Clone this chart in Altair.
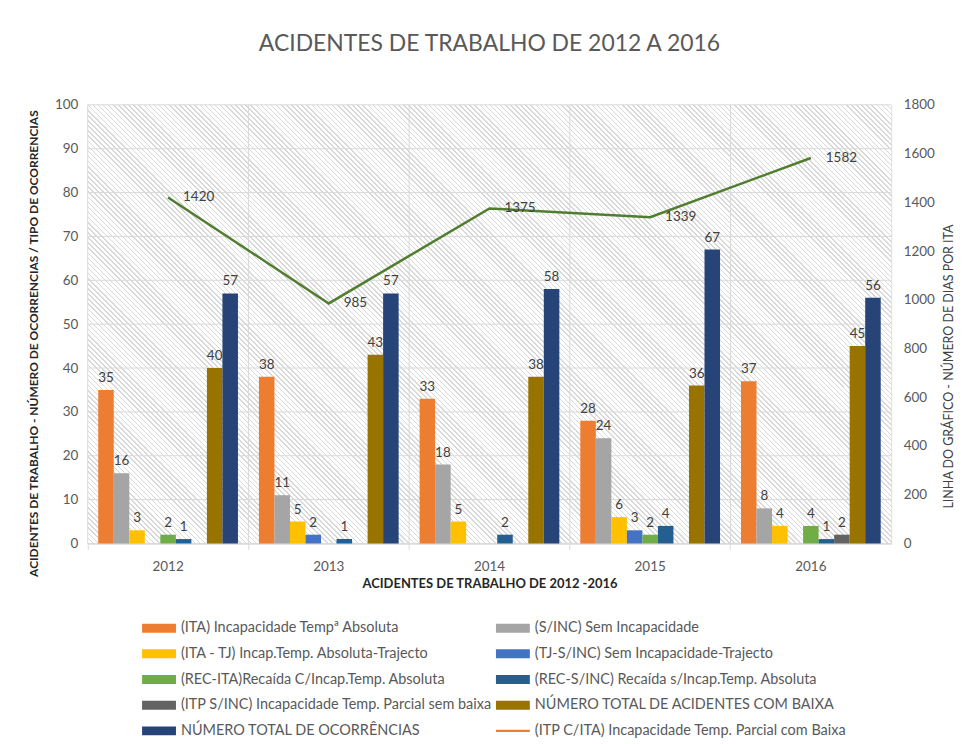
import altair as alt
import pandas as pd

# ---------------- data ----------------
years = ["2012", "2013", "2014", "2015", "2016"]
series = [
    "(ITA) Incapacidade Tempª Absoluta",
    "(S/INC)  Sem Incapacidade",
    "(ITA - TJ) Incap.Temp. Absoluta-Trajecto",
    "(TJ-S/INC) Sem Incapacidade-Trajecto",
    "(REC-ITA)Recaída C/Incap.Temp. Absoluta",
    "(REC-S/INC) Recaída s/Incap.Temp. Absoluta",
    "(ITP S/INC) Incapacidade Temp. Parcial sem baixa",
    "NÚMERO TOTAL DE ACIDENTES COM BAIXA",
    "NÚMERO TOTAL DE OCORRÊNCIAS",
]
colors = ["#ED7D31", "#A5A5A5", "#FFC000", "#4472C4", "#70AD47",
          "#255E91", "#636363", "#997300", "#264478"]

ita = [35, 38, 33, 28, 37]
s_inc = [16, 11, 18, 24, 8]
ita_tj = [3, 5, 5, 6, 4]
tj_s_inc = [0, 2, 0, 3, 0]
rec_ita = [2, 0, 0, 2, 4]
rec_s_inc = [1, 1, 2, 4, 1]
itp_s_inc = [0, 0, 0, 0, 2]
total_baixa = [40, 43, 38, 36, 45]
total_ocorr = [57, 57, 58, 67, 56]

line_name = "(ITP C/ITA) Incapacidade Temp. Parcial com Baixa"
itp_c_ita = [1420, 985, 1375, 1339, 1582]

left_ticks = [0, 10, 20, 30, 40, 50, 60, 70, 80, 90, 100]
right_ticks = [0, 200, 400, 600, 800, 1000, 1200, 1400, 1600, 1800]

title_text = "ACIDENTES DE TRABALHO DE 2012 A 2016"
x_title = "ACIDENTES DE TRABALHO DE 2012 -2016"
y_left_title = "ACIDENTES DE TRABALHO - NÚMERO DE OCORRENCIAS / TIPO DE OCORRENCIAS"
y_right_title = "LINHA DO GRÁFICO - NÚMERO DE DIAS POR ITA"

# ---------------- tables ----------------
all_vals = [ita, s_inc, ita_tj, tj_s_inc, rec_ita, rec_s_inc, itp_s_inc, total_baixa, total_ocorr]
rows = []
for s, vals in zip(series, all_vals):
    for y, v in zip(years, vals):
        if v > 0:
            rows.append({"year": y, "series": s, "value": v})
bar_df = pd.DataFrame(rows)
line_df = pd.DataFrame({"year": years, "v": itp_c_ita})

legend_names = series + [line_name]
legend_colors = colors + ["#C55A11"]
legend_df = pd.DataFrame({
    "name": legend_names,
    "kind": ["bar"] * len(series) + ["line"],
    "row": [i // 2 for i in range(len(legend_names))],
    "col": [i % 2 for i in range(len(legend_names))],
})

# ---------------- styling ----------------
FONT = "Lato"
W, H = 806, 440
LINE_COLOR = "#507E2E"
GRID = "#d9d9d9"

# diagonal hatch background via hard-stop linear gradient
period_px = 3.6
span = (W + H) / 2 ** 0.5
n = int(span / period_px)
stops = []
for i in range(n):
    a = round(i / n, 6)
    b = round((i + 0.3) / n, 6)
    c = round((i + 1) / n, 6)
    stops += [{"offset": a, "color": "#d8d8d8"}, {"offset": b, "color": "#d8d8d8"},
              {"offset": b, "color": "#ffffff"}, {"offset": c, "color": "#ffffff"}]
k = (W + H) / (W ** 2 + H ** 2)
grad = {"gradient": "linear", "x1": 0, "y1": 1, "x2": round(k * W, 5), "y2": round(1 - k * H, 5), "stops": stops}

xscale = alt.Scale(domain=years, paddingInner=0, paddingOuter=0)
xoff_scale = alt.Scale(domain=series, paddingInner=0, paddingOuter=0.675)
yl = alt.Scale(domain=[0, 100], nice=False)
yr = alt.Scale(domain=[0, 1800], nice=False)

ax_x = alt.Axis(
    bandPosition=0, labelAngle=0, grid=False,
    domainColor=GRID, tickColor=GRID, tickSize=6, labelPadding=10,
    labelFontSize=13.5, labelColor="#595959", labelFont=FONT,
    titleFontSize=13, titleFontWeight="bold", titleColor="#262626", titleFont=FONT,
    titlePadding=5,
)
ax_yl = alt.Axis(
    values=left_ticks, format="d", grid=False, ticks=False, domain=False, labelPadding=10,
    labelFontSize=13.5, labelColor="#595959", labelFont=FONT,
    titleFontSize=12, titleFontWeight="bold", titleColor="#262626", titleFont=FONT,
    titleAngle=270, titleX=-54, titleY=239, titleAlign="center", titleBaseline="middle",
)
ax_yr = alt.Axis(
    orient="right", values=right_ticks, format="d", grid=False, ticks=False, domain=False,
    labelPadding=12, labelFontSize=13.5, labelColor="#595959", labelFont=FONT,
    titleFontSize=12.5, titleFontWeight="normal", titleColor="#404040", titleFont=FONT,
    titleAngle=270, titleX=57, titleY=262, titleAlign="center", titleBaseline="middle",
)


def X(field, **kw):
    return alt.X(field, scale=xscale, axis=ax_x, title=x_title, **kw)


def YL(field):
    return alt.Y(field, scale=yl, axis=ax_yl, title=y_left_title)


def YR(field):
    return alt.Y(field, scale=yr, axis=ax_yr, title=y_right_title)


bg = alt.Chart(alt.Data(values=[{"k": 1}])).mark_rect(fill=grad, strokeWidth=0).encode(
    x=alt.value(0), x2=alt.value("width"), y=alt.value(0), y2=alt.value("height")
)

hgrid = alt.Chart(pd.DataFrame({"value": left_ticks})).mark_rule(color=GRID, strokeWidth=1).encode(
    y=YL("value:Q")
)
vgrid = alt.Chart(pd.DataFrame({"year": years})).mark_rule(color=GRID, strokeWidth=1).encode(
    x=X("year:N", bandPosition=0)
)

bars = alt.Chart(bar_df).mark_bar().encode(
    x=X("year:N"),
    xOffset=alt.XOffset("series:N", scale=xoff_scale),
    y=YL("value:Q"),
    color=alt.Color("series:N", scale=alt.Scale(domain=series, range=colors), legend=None),
)

bar_text = alt.Chart(bar_df).mark_text(
    baseline="bottom", dy=-5, fontSize=13.5, color="#404040", font=FONT
).encode(
    x=X("year:N"),
    xOffset=alt.XOffset("series:N", scale=xoff_scale),
    y=YL("value:Q"),
    text=alt.Text("value:Q"),
)

line = alt.Chart(line_df).mark_line(color=LINE_COLOR, strokeWidth=2.5).encode(
    x=X("year:N"),
    y=YR("v:Q"),
)
line_text = alt.Chart(line_df).mark_text(
    align="left", baseline="middle", dx=15, fontSize=13.5, color="#404040", font=FONT
).encode(
    x=X("year:N"),
    y=YR("v:Q"),
    text=alt.Text("v:Q"),
)

left_layer = alt.layer(bg, hgrid, vgrid, bars, bar_text)
right_layer = alt.layer(line, line_text)

main = alt.layer(left_layer, right_layer).resolve_scale(y="independent").properties(
    width=W, height=H,
    title=alt.TitleParams(text=title_text, fontSize=23, color="#595959", font=FONT,
                          fontWeight="normal", anchor="middle", offset=42),
    view=alt.ViewBackground(stroke=GRID, strokeWidth=1),
)

# ---------------- legend ----------------
bar_path = "M-1,-0.265H1V0.265H-1Z"
line_path = "M-1,-0.06H1V0.06H-1Z"
leg_x = alt.X("col:Q", scale=alt.Scale(domain=[0, 1], range=[71.5, 426.5]), axis=None)
leg_y = alt.Y("row:Q", scale=alt.Scale(domain=[0, 4], range=[18, 121]), axis=None)

leg_sym = alt.Chart(legend_df).mark_point(filled=True, size=1156, opacity=1, strokeWidth=0).encode(
    x=leg_x, y=leg_y,
    color=alt.Color("name:N", scale=alt.Scale(domain=legend_names, range=legend_colors), legend=None),
    shape=alt.Shape("kind:N", scale=alt.Scale(domain=["bar", "line"], range=[bar_path, line_path]), legend=None),
)
leg_txt = alt.Chart(legend_df).mark_text(
    align="left", baseline="middle", dx=22, fontSize=14.5, color="#595959", font=FONT
).encode(x=leg_x, y=leg_y, text="name:N")

legend = alt.layer(leg_sym, leg_txt).properties(
    width=W, height=124, view=alt.ViewBackground(strokeWidth=0)
)

chart = alt.vconcat(main, legend, spacing=19).properties(
    padding={"left": 19, "top": 23, "right": 0, "bottom": 0}
).configure(font=FONT)

chart.save("out.html", embed_options={"renderer": "svg", "actions": False})
